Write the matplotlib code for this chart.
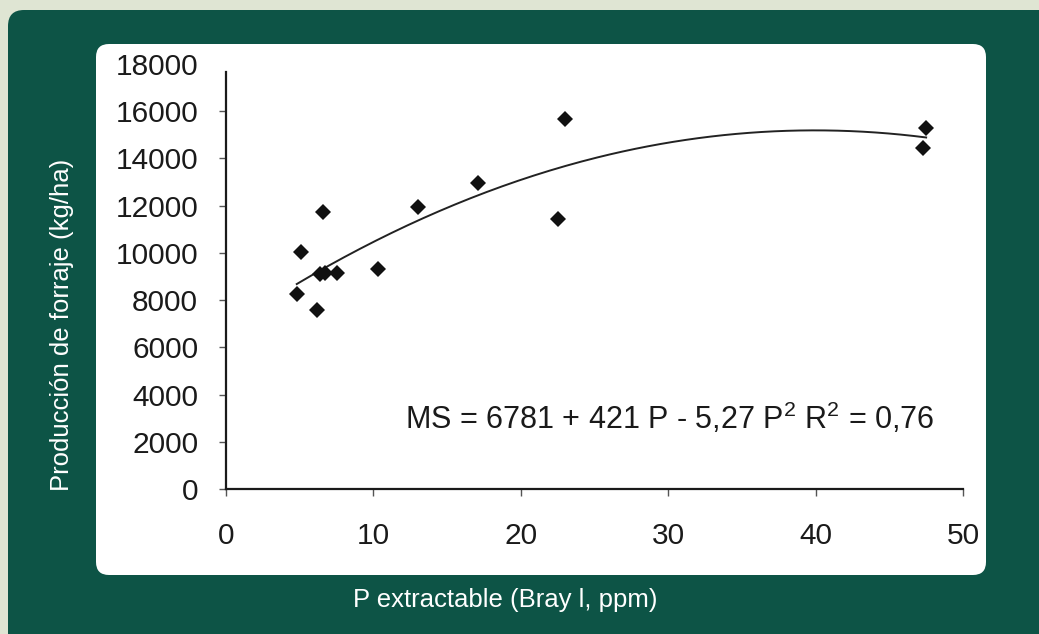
import numpy as np
import matplotlib
matplotlib.use("Agg")
import matplotlib.pyplot as plt
from matplotlib.patches import FancyBboxPatch

plt.rcParams['font.family'] = ['Liberation Sans', 'DejaVu Sans']
plt.rcParams['mathtext.fontset'] = 'custom'
plt.rcParams['mathtext.rm'] = 'Liberation Sans'
plt.rcParams['mathtext.it'] = 'Liberation Sans'

# data
p_bray = [4.8, 5.1, 6.2, 6.4, 6.7, 6.6, 7.5, 10.3, 13.0, 17.1, 22.5, 23.0, 47.5, 47.3]
forraje = [8250, 10050, 7600, 9100, 9150, 11750, 9150, 9300, 11950, 12950, 11450, 15650, 15300, 14450]

# fitted curve printed on the chart: MS = 6781 + 421 P - 5,27 P^2
coef_a, coef_b, coef_c = 6781, 421, -5.27
curve_range = (4.8, 47.5)

x_ticks = [0, 10, 20, 30, 40, 50]
y_ticks = [0, 2000, 4000, 6000, 8000, 10000, 12000, 14000, 16000, 18000]

W, H = 1039, 634
fig = plt.figure(figsize=(W / 100, H / 100), dpi=100)
fig.patch.set_facecolor('#dfe5d3')

# dark green panel and white card (pixel coords, origin bottom-left)
fig.patches.append(FancyBboxPatch((8, -30), W + 30 - 8, H + 30 - 10,
                                  boxstyle="round,pad=0,rounding_size=16",
                                  transform=None, facecolor='#0d5446',
                                  edgecolor='none', zorder=0))
fig.patches.append(FancyBboxPatch((96, H - 575), 986 - 96, 575 - 44,
                                  boxstyle="round,pad=0,rounding_size=13",
                                  transform=None, facecolor='white',
                                  edgecolor='none', zorder=1))

ax = fig.add_axes([226 / W, 1 - 489 / H, (963 - 226) / W, (489 - 64) / H])
ax.set_facecolor('none')
ax.set_zorder(2)

ax.plot(p_bray, forraje, linestyle='none', marker='D', markersize=8.6,
        color='#111111', markeredgewidth=0, zorder=3)

xx = np.linspace(curve_range[0], curve_range[1], 200)
ax.plot(xx, coef_a + coef_b * xx + coef_c * xx ** 2, color='#222222', lw=1.4, zorder=2)

ax.set_xlim(0, 50)
ax.set_ylim(0, 18000)
ax.set_xticks(x_ticks)
ax.set_yticks(y_ticks)
ax.spines['top'].set_visible(False)
ax.spines['right'].set_visible(False)
ax.spines['left'].set_bounds(0, 17650)
for s in ('left', 'bottom'):
    ax.spines[s].set_linewidth(1.6)
    ax.spines[s].set_color('#1a1a1a')
ax.tick_params(axis='both', direction='out', length=5, width=1, color='#555555',
               labelsize=21.5, labelcolor='#1a1a1a')
ax.tick_params(axis='y', pad=15)
ax.tick_params(axis='x', pad=19)
# top tick has no mark in the original
ax.yaxis.get_major_ticks()[-1].tick1line.set_visible(False)

ax.text(405, H - 418, r'MS = 6781 + 421 P - 5,27 P$^{2}$ R$^{2}$ = 0,76',
        transform=None, fontsize=22, color='#1a1a1a', va='center', ha='left')

fig.text(62 / W, 1 - 325 / H, 'Producción de forraje (kg/ha)', rotation=90,
         color='white', fontsize=18.5, ha='center', va='center')
fig.text(505 / W, 1 - 600 / H, 'P extractable (Bray l, ppm)',
         color='white', fontsize=18.5, ha='center', va='center')

fig.savefig('out.png', dpi=100, facecolor=fig.get_facecolor())
